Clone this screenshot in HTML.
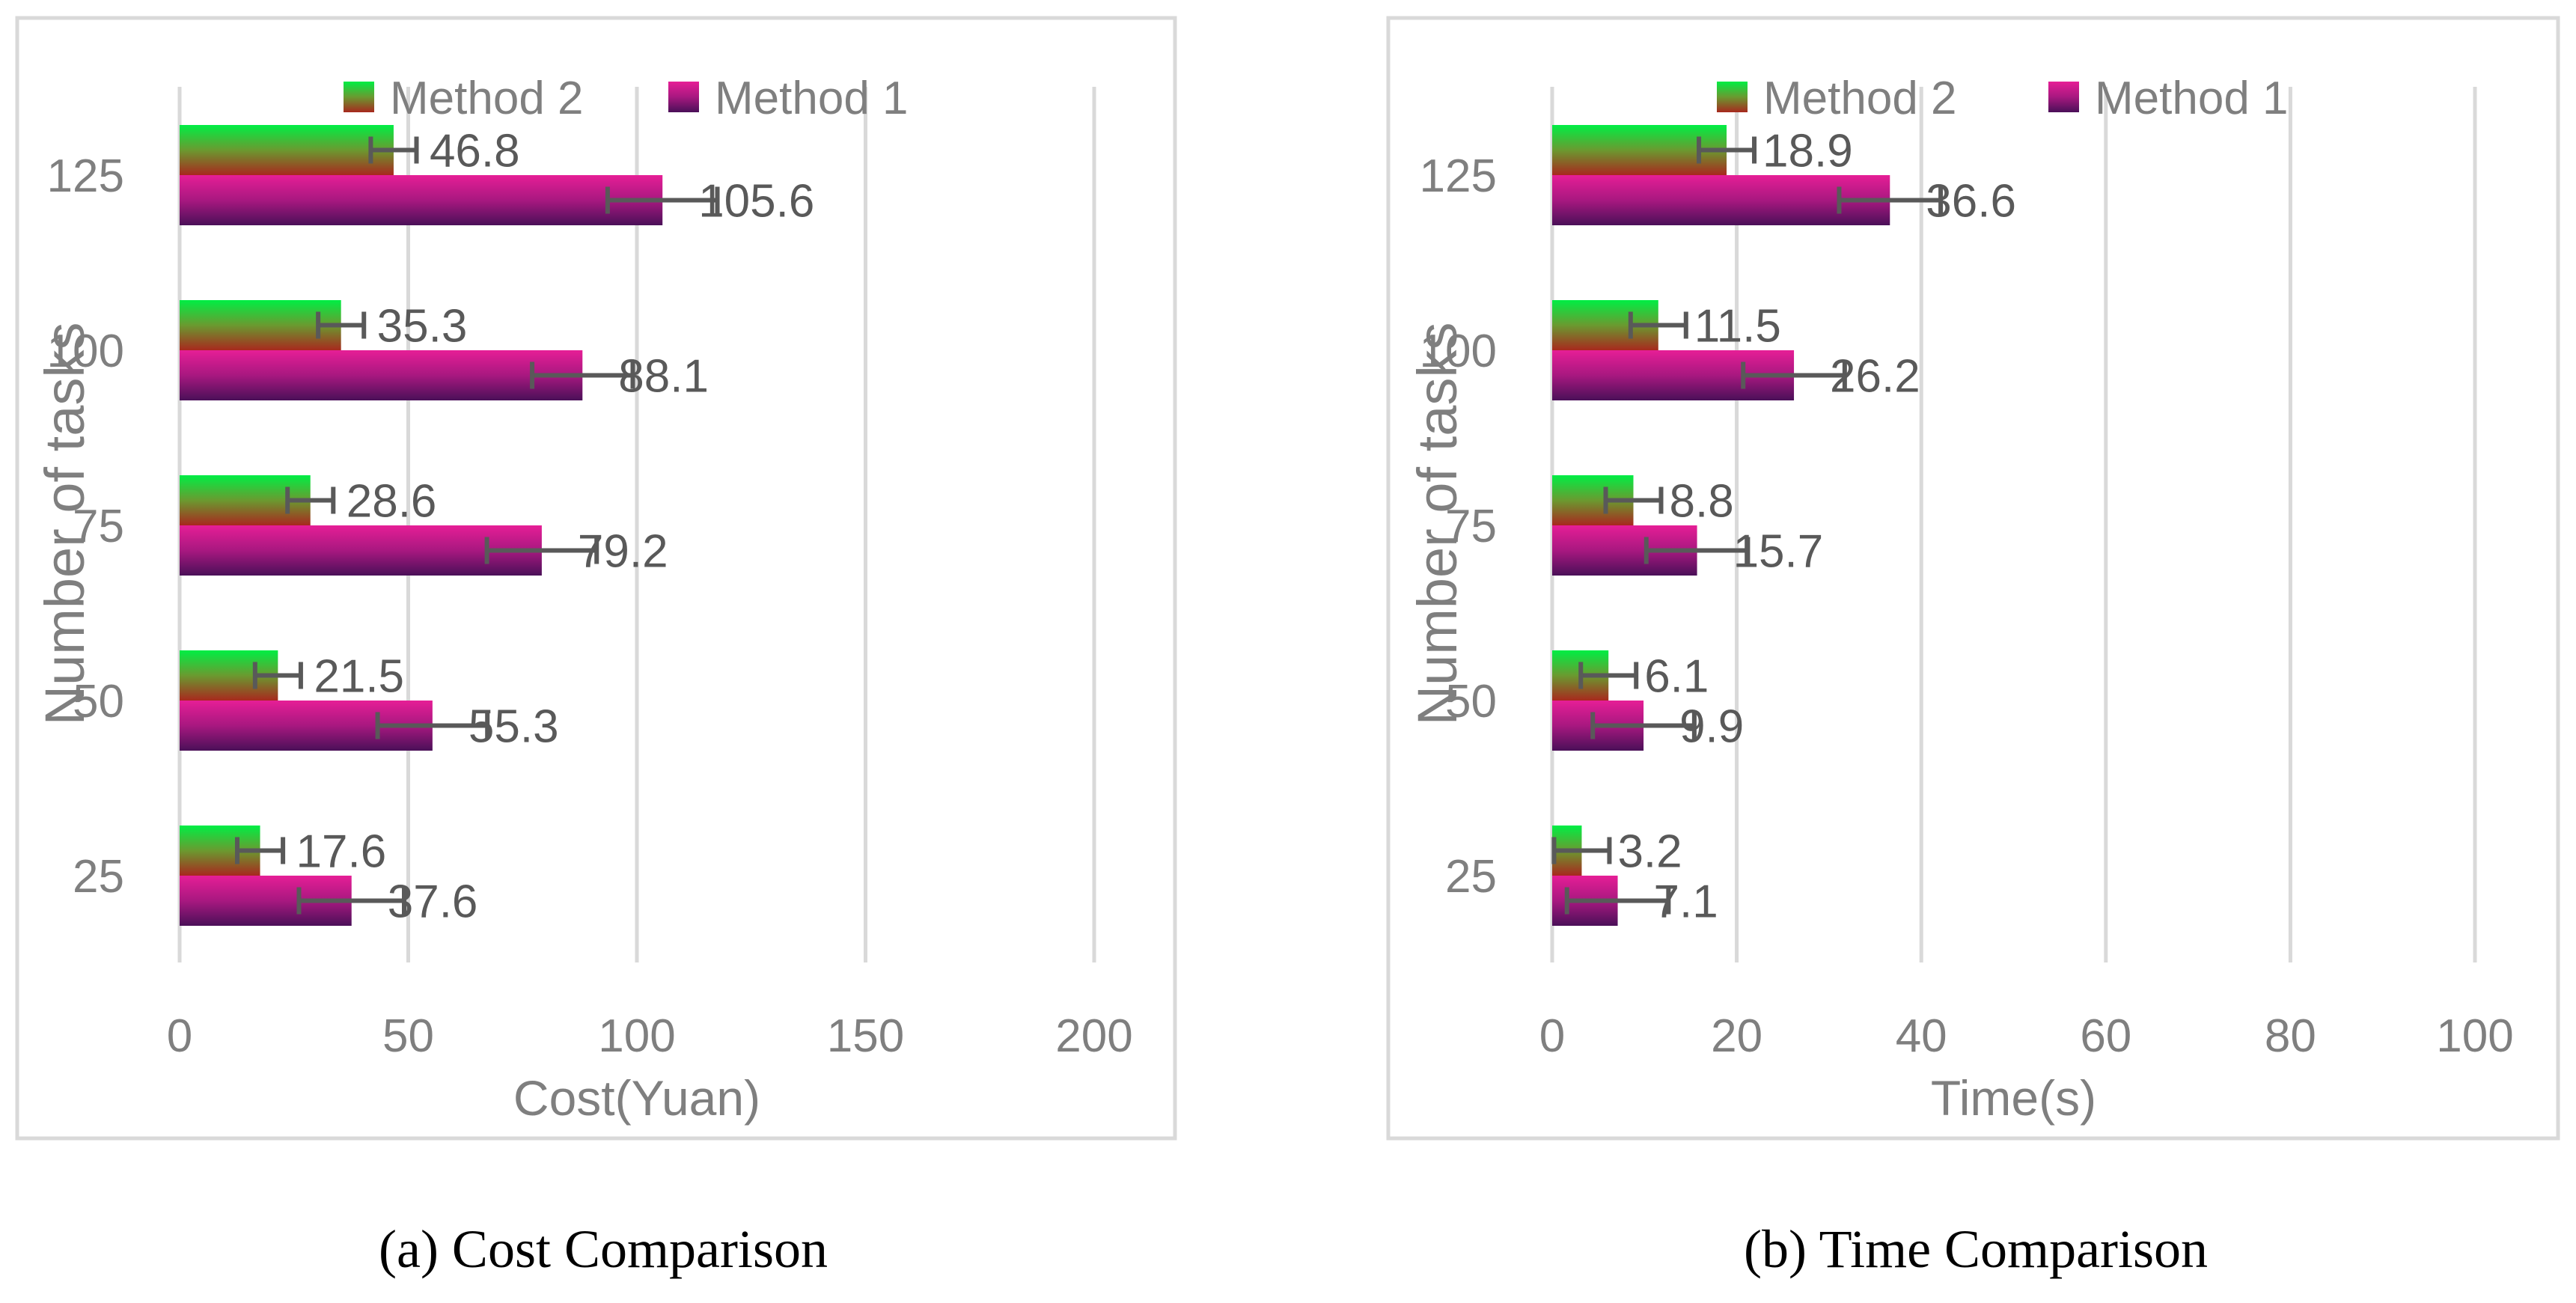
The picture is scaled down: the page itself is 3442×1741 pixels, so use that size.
<!DOCTYPE html>
<html><head><meta charset="utf-8"><style>
html,body{margin:0;padding:0;background:#fff;}
svg{display:block;}
</style></head><body>
<svg id="chart" width="3442" height="1741" viewBox="0 0 3442 1741" xmlns="http://www.w3.org/2000/svg" font-family="Liberation Sans, sans-serif">
<defs>
<linearGradient id="gGreen" x1="0" y1="0" x2="0" y2="1">
<stop offset="0" stop-color="#00ee44"/><stop offset="0.5" stop-color="#6a9a30"/><stop offset="1" stop-color="#a8281e"/>
</linearGradient>
<linearGradient id="gMag" x1="0" y1="0" x2="0" y2="1">
<stop offset="0" stop-color="#e61e96"/><stop offset="0.5" stop-color="#a81880"/><stop offset="1" stop-color="#4a1058"/>
</linearGradient>
</defs>
</svg>
<script>
const categories = ["125","100","75","50","25"];
const costMethod2 = [46.8,35.3,28.6,21.5,17.6];
const costMethod1 = [105.6,88.1,79.2,55.3,37.6];
const costErr2 = [5,5,5,5,5];
const costErr1 = [12,11,12,12,11.5];
const costTicks = [0,50,100,150,200];
const timeMethod2 = [18.9,11.5,8.8,6.1,3.2];
const timeMethod1 = [36.6,26.2,15.7,9.9,7.1];
const timeErr2 = [3,3,3,3,3];
const timeErr1 = [5.5,5.5,5.5,5.5,5.5];
const timeTicks = [0,20,40,60,80,100];

const NS="http://www.w3.org/2000/svg";
const svg=document.getElementById('chart');
function mk(tag,attrs,parent,txt){const e=document.createElementNS(NS,tag);for(const k in attrs)e.setAttribute(k,attrs[k]);if(txt!==undefined)e.textContent=txt;(parent||svg).appendChild(e);return e;}

function panel(p){
  const g=mk('g',{});
  
  
  const fr=mk('rect',{x:p.fx,y:p.fy,width:p.fw,height:p.fh,fill:'none',stroke:'#d9d9d9','stroke-width':5},g);
  
  
  const maxT=p.ticks[p.ticks.length-1];
  const xs=v=>p.x0+(v/maxT)*(p.x1-p.x0);
  const gridTop=116, gridBot=1286, catY0=234, catStep=234, barH=67;
  p.ticks.forEach(t=>{
    const l=mk('line',{x1:xs(t),x2:xs(t),y1:gridTop,y2:gridBot,stroke:'#d9d9d9','stroke-width':5},g);
    
    
    const tl=mk('text',{x:xs(t),y:1405,'text-anchor':'middle','font-size':62,fill:'#7f7f7f'},g,String(t));
    
    
  });
  const xt=mk('text',{x:(p.x0+p.x1)/2,y:1490,'text-anchor':'middle','font-size':66,fill:'#7f7f7f'},g,p.xTitle);
  
  
  const yt=mk('text',{x:0,y:0,'text-anchor':'middle','font-size':74,fill:'#7f7f7f',transform:`translate(${p.x0-128},700) rotate(-90)`},g,'Number of tasks');
  
  
  categories.forEach((c,i)=>{
    const cy=catY0+i*catStep;
    const cl=mk('text',{x:p.x0-74,y:cy+22,'text-anchor':'end','font-size':62,fill:'#7f7f7f'},g,c);
    
    
    [[p.m2,p.e2,'url(#gGreen)',cy-barH,'method2'],[p.m1,p.e1,'url(#gMag)',cy,'method1']].forEach(([vals,errs,fill,y,s])=>{
      const v=vals[i], e=errs[i];
      const r=mk('rect',{x:p.x0,y:y,width:xs(v)-p.x0,height:barH,fill:fill},g);
      
      
      const my=y+barH/2;
      const eb=mk('g',{stroke:'#595959','stroke-width':6},g);
      
      
      mk('line',{x1:xs(v-e),x2:xs(v+e),y1:my,y2:my},eb);
      mk('line',{x1:xs(v-e),x2:xs(v-e),y1:my-18,y2:my+18},eb);
      mk('line',{x1:xs(v+e),x2:xs(v+e),y1:my-18,y2:my+18},eb);
      const dl=mk('text',{x:xs(v)+48,y:my+22,'font-size':62,fill:'#595959'},g,String(v));
      
      
    });
  });
  [[p.lg2,'url(#gGreen)','Method 2'],[p.lg1,'url(#gMag)','Method 1']].forEach(([lx,f,t])=>{
    const le=mk('g',{},g);
    
    
    mk('rect',{x:lx,y:109,width:41,height:41,fill:f},le);
    mk('text',{x:lx+62,y:152,'font-size':62,fill:'#7f7f7f'},le,t);
  });
  const cap=mk('text',{x:p.capX,y:1693,'text-anchor':'middle','font-size':72,fill:'#000',style:'font-family:"Liberation Serif",serif'},g,p.caption);
  
  
}
panel({key:'cost',fx:23,fy:24,fw:1547,fh:1497,x0:240,x1:1462,ticks:costTicks,m2:costMethod2,m1:costMethod1,e2:costErr2,e1:costErr1,xTitle:'Cost(Yuan)',lg2:459,lg1:893,capX:806,caption:'(a) Cost Comparison'});
panel({key:'time',fx:1855,fy:24,fw:1563,fh:1497,x0:2074,x1:3307,ticks:timeTicks,m2:timeMethod2,m1:timeMethod1,e2:timeErr2,e1:timeErr1,xTitle:'Time(s)',lg2:2294,lg1:2737,capX:2640,caption:'(b) Time Comparison'});
</script>
</body></html>
